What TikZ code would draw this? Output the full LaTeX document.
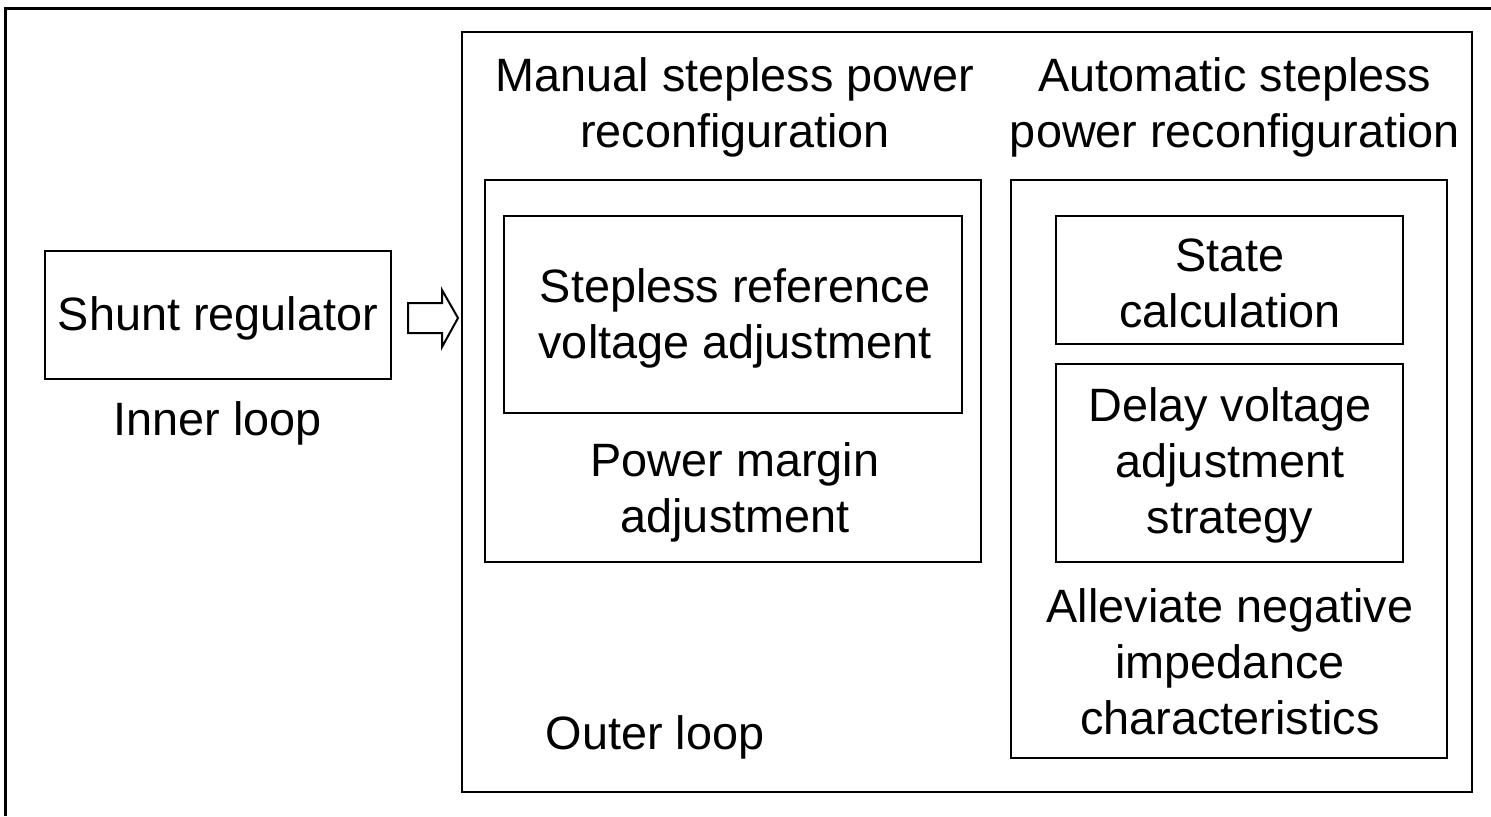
\documentclass[tikz,border=0pt]{standalone}
\usepackage{fontspec}
\setmainfont{Liberation Sans}
\begin{document}
\begin{tikzpicture}[x=0.5pt,y=-0.5pt,
  box/.style={draw, line width=1pt, inner sep=0pt},
  txt/.style={inner sep=0pt, align=center, font=\fontsize{23.4}{28}\selectfont}]
\useasboundingbox (0,0) rectangle (1491,816);
% outer frame (partially visible)
\draw[line width=1.5pt] (5,816) -- (5,8) -- (1491,8);
% left part
\node[box, minimum width=173pt, minimum height=64pt] (shunt) at (218,315) {};
\node[txt] (shuntt) at (218,318) {Shunt regulator};
\node[txt] (inner) at (218,423) {Inner loop};
% big outer loop box
\node[box, minimum width=505pt, minimum height=380pt] (big) at (967,412) {};
\node[txt] (outer) at (655,737) {Outer loop};
% block arrow
\draw[line width=1pt] ([shift={(16,-12)}]shunt.east) -- ([shift={(50,-12)}]shunt.east)
  -- ([shift={(50,-25)}]shunt.east) -- ([shift={(66,3)}]shunt.east)
  -- ([shift={(50,32)}]shunt.east) -- ([shift={(50,18)}]shunt.east)
  -- ([shift={(16,18)}]shunt.east) -- cycle;
% manual
\node[txt] (mtitle) at (735,107) {Manual stepless power\\reconfiguration};
\node[box, minimum width=248pt, minimum height=191pt] (manual) at (733,371) {};
\node[box, minimum width=229pt, minimum height=98.5pt] (ref) at (733,314.5) {};
\node[txt] (reft) at (735,318) {Stepless reference\\voltage adjustment};
\node[txt] (margin) at (735,492) {Power margin\\adjustment};
% automatic
\node[txt] (atitle) at (1235,107) {Automatic stepless\\power reconfiguration};
\node[box, minimum width=218pt, minimum height=289pt] (auto) at (1229,469) {};
\node[box, minimum width=173.5pt, minimum height=64pt] (state) at (1229.5,280) {};
\node[txt] (statet) at (1230,283) {State\\calculation};
\node[box, minimum width=173.5pt, minimum height=99pt] (delay) at (1229.5,463) {};
\node[txt] (delayt) at (1230,465) {Delay voltage\\adjustment\\strategy};
\node[txt] (allev) at (1230,662) {Alleviate negative\\impedance\\characteristics};
\end{tikzpicture}
\end{document}
